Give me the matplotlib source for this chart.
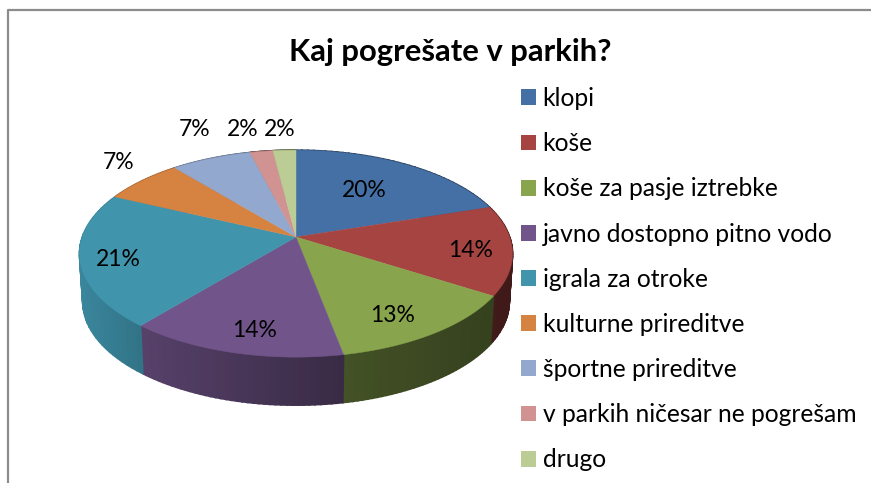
import numpy as np
import matplotlib
matplotlib.use('Agg')
import matplotlib.pyplot as plt
from matplotlib.patches import Patch

plt.rcParams['font.family'] = ['Lato', 'DejaVu Sans']

#
## Data
#
title = 'Kaj pogrešate v parkih?'
categories = ['klopi', 'koše', 'koše za pasje iztrebke', 'javno dostopno pitno vodo',
              'igrala za otroke', 'kulturne prireditve', 'športne prireditve',
              'v parkih ničesar ne pogrešam', 'drugo']
shares = [20, 14, 13, 14, 21, 7, 7, 2, 2]

#
## Styles and pie geometry, in pixels
#
colours = ['#4570a5', '#a64442', '#88a44c', '#71558a', '#4095ad',
           '#d68240', '#93a8cf', '#d09392', '#bbcd95']
label_r = [0.6, 0.82, 0.76, 0.8, 0.825, 1, 1, 1, 1]
label_nudge = [(-2, -1), (-2, 3), (-5, 8), (7, 4), (0, 4), (-24, -18), (-17, -29), (-19, -22), (-5, -21)]
cx, cy = 296, 237
rx, ry = 213.7, 100.8
persp = 0.161
depth = 48
base_scale = 0.985


def project(theta, r=1.0, scale=1.0, drop=0):
    # theta runs clockwise from the top of the pie
    u = r * np.sin(theta)
    v = r * np.cos(theta)
    w = 1 + persp * v
    return cx + scale * rx * u / w, cy + drop - ry * v / w


def side_shade(x):
    return np.interp(x, [80, 146, 343, 510], [0.90, 0.76, 0.50, 0.38])


fig = plt.figure(figsize=(8.71, 4.83), dpi=100)
ax = fig.add_axes([0, 0, 1, 1])
ax.set_xlim(0, 871)
ax.set_ylim(483, 0)
ax.axis('off')

ax.plot([8, 8, 871], [483, 10, 10], color='#8c8c8c', lw=1.6)

edges = np.radians(np.cumsum([0] + shares) * 3.6)

# side of the pie first, the top face covers whatever is at the back
for i, col in enumerate(colours):
    steps = np.linspace(edges[i], edges[i + 1], 40)
    rgb = np.array(matplotlib.colors.to_rgb(col))
    for t0, t1 in zip(steps[:-1], steps[1:]):
        x0, y0 = project(t0)
        x1, y1 = project(t1)
        x2, y2 = project(t1, scale=base_scale, drop=depth)
        x3, y3 = project(t0, scale=base_scale, drop=depth)
        shade = rgb * side_shade((x0 + x1) / 2)
        ax.fill([x0, x1, x2, x3], [y0, y1, y2, y3], color=shade, lw=1.2)

for i, col in enumerate(colours):
    t = np.linspace(edges[i], edges[i + 1], 80)
    x, y = project(t)
    ax.fill(np.r_[cx, x], np.r_[cy, y], color=col, lw=0.3)

for i, share in enumerate(shares):
    mid = (edges[i] + edges[i + 1]) / 2
    x, y = project(mid, r=label_r[i])
    ax.text(x + label_nudge[i][0], y + label_nudge[i][1], str(share) + '%',
            ha='center', va='center', fontsize=16.5, color='black')

ax.text(450, 52, title, ha='center', va='center', fontsize=22.3, fontweight='bold', color='black')

handles = [Patch(facecolor=c, edgecolor='none') for c in colours]
ax.legend(handles, categories, loc='upper left', bbox_to_anchor=(0.5985, 0.82), frameon=False,
          fontsize=17.75, labelspacing=0.90, handlelength=0.61, handleheight=0.61,
          handletextpad=0.26, borderpad=0, borderaxespad=0)

plt.savefig('out.png', dpi=100)
